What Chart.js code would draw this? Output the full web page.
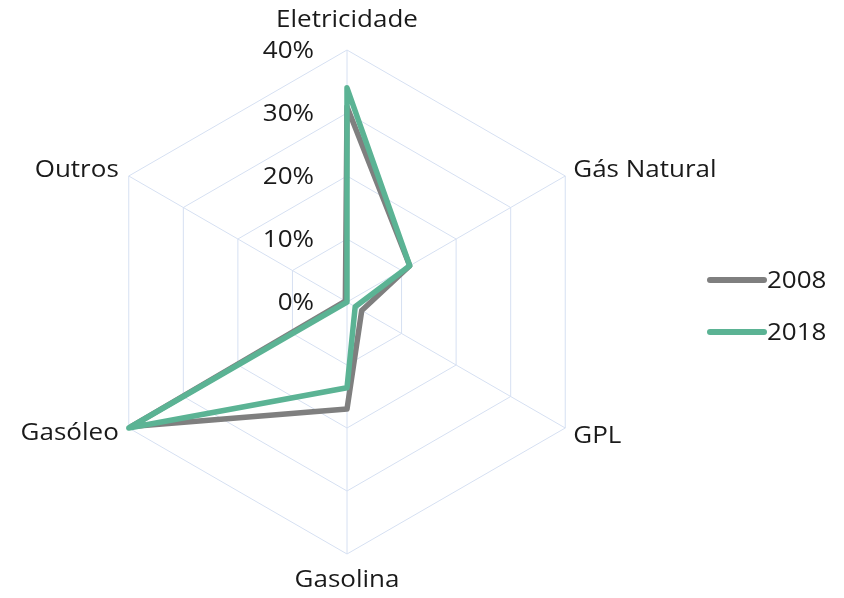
<!DOCTYPE html>
<html><head><meta charset="utf-8">
<script src="https://cdn.jsdelivr.net/npm/chart.js@4/dist/chart.umd.min.js"></script>
<style>html,body{margin:0;padding:0;background:#fff}#wrap{width:844px;height:598px;position:relative}</style>
</head><body><div id="wrap"><canvas id="c" width="844" height="598"></canvas></div>
<script>
const categories = ['Eletricidade','Gás Natural','GPL','Gasolina','Gasóleo','Outros'];
const values2008 = [31, 11.5, 2.7, 17, 39.5, 0.3];
const values2018 = [34, 11.5, 1.5, 13.6, 40, 0];
const seriesNames = ['2008','2018'];
const tickValues = [0,10,20,30,40];
const tickLabels = ['0%','10%','20%','30%','40%'];

const FONT = '"Open Sans", sans-serif';
const colors = ['#7f7f7f','#5bb394'];
const SX = 1.13;

function stretchText(ctx, t, x, y, align){
  ctx.save();
  ctx.translate(x, y);
  ctx.scale(SX, 1);
  ctx.textAlign = align;
  ctx.fillText(t, 0, 0);
  ctx.restore();
}

const labelPlugin = {
  id:'customLabels',
  afterDraw(chart){
    const ctx = chart.ctx, s = chart.scales.r;
    ctx.save();
    ctx.fillStyle = '#1a1a1a';
    ctx.font = '23px ' + FONT;
    ctx.textBaseline='middle';
    tickValues.forEach((v,i)=>{
      const d = s.getDistanceFromCenterForValue(v);
      stretchText(ctx, tickLabels[i], s.xCenter - 33, s.yCenter - d + 1, 'right');
    });
    categories.forEach((c,i)=>{
      const p = s.getPointPositionForValue(i, s.max);
      let x=p.x, y=p.y, align;
      const dx = p.x - s.xCenter, dy = p.y - s.yCenter;
      if (Math.abs(dx) < 1) { align='center'; y += dy<0 ? -30 : 26; }
      else if (dx > 0) { align='left'; x += 8; y += dy<0 ? -6 : 8; }
      else { align='right'; x -= 10; y += dy<0 ? -6 : 5; }
      stretchText(ctx, c, x, y, align);
    });
    const ly = [280, 332];
    seriesNames.forEach((n,i)=>{
      ctx.strokeStyle = colors[i]; ctx.lineWidth = 6; ctx.lineCap='round';
      ctx.beginPath(); ctx.moveTo(710, ly[i]); ctx.lineTo(764, ly[i]); ctx.stroke();
      stretchText(ctx, n, 767, ly[i]+1, 'left');
    });
    ctx.restore();
  }
};

new Chart(document.getElementById('c'), {
  type:'radar',
  data:{
    labels: categories,
    datasets:[
      {label:seriesNames[0], data:values2008, order:1, borderColor:colors[0], borderWidth:5.5, pointRadius:0, fill:false, borderJoinStyle:'round', tension:0},
      {label:seriesNames[1], data:values2018, order:0, borderColor:colors[1], borderWidth:5.5, pointRadius:0, fill:false, borderJoinStyle:'round', tension:0}
    ]
  },
  options:{
    responsive:false, animation:false,
    layout:{padding:{left:95, right:245, top:50, bottom:44}},
    plugins:{legend:{display:false}, tooltip:{enabled:false}},
    scales:{r:{
      min:0, max:40,
      ticks:{display:false, stepSize:10},
      pointLabels:{display:false},
      grid:{color:'#d6e0f2', lineWidth:1},
      angleLines:{color:'#d6e0f2', lineWidth:1}
    }}
  },
  plugins:[labelPlugin]
});
</script></body></html>
